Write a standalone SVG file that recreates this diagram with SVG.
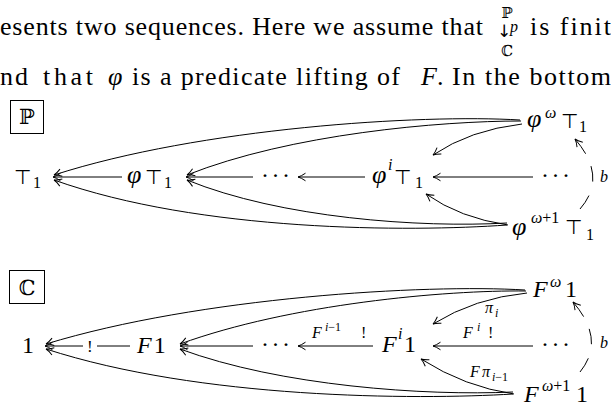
<svg xmlns="http://www.w3.org/2000/svg" width="611" height="406" viewBox="0 0 611 406">
<style>
text{fill:#000}
.t{font-family:"Liberation Serif",serif;font-size:26px}
.m{font-family:"Liberation Serif",serif;font-size:24px}
.phi{font-family:"Liberation Serif",serif;font-size:26px;font-style:italic}
.it{font-style:italic}
.sup{font-family:"Liberation Serif",serif;font-size:16px}
.lab{font-family:"Liberation Serif",serif;font-size:16px}
.ls{font-size:12px}
.top{font-family:"DejaVu Sans",sans-serif;font-size:20px;font-weight:200}
.bb{font-family:"DejaVu Serif",serif}
.c{fill:none;stroke:#000;stroke-width:1;marker-end:url(#ah)}
.box{fill:none;stroke:#000;stroke-width:1}
.dash{stroke-dasharray:16.5 15 16 14 18.5}
</style>
<defs>
<marker id="ah" viewBox="-10 -6 12 12" refX="0" refY="0" markerWidth="12" markerHeight="12" markerUnits="userSpaceOnUse" orient="auto">
<path d="M-7.5,-3.8 Q-3,-0.7 0,0 Q-3,0.7 -7.5,3.8" fill="none" stroke="#000" stroke-width="1"/>
</marker>
</defs>

<g id="prose">
<text class="t" x="0" y="35" textLength="483" lengthAdjust="spacing">esents two sequences. Here we assume that</text>
<text class="bb" x="507" y="18" font-size="15" text-anchor="middle">ℙ</text>
<text x="504" y="37" font-family="DejaVu Sans, sans-serif" font-size="17" text-anchor="middle">↓</text>
<text class="it" x="510" y="32" font-family="Liberation Serif, serif" font-size="16">p</text>
<text class="bb" x="507" y="56" font-size="15" text-anchor="middle">ℂ</text>
<text class="t" x="530" y="35" textLength="81" lengthAdjust="spacing">is finit</text>
<text class="t" x="0" y="85" textLength="28" lengthAdjust="spacing">nd</text>
<text class="t" x="43" y="85" textLength="50" lengthAdjust="spacing">that</text>
<text class="t it" x="108" y="85">φ</text>
<text class="t" x="132" y="85" textLength="268" lengthAdjust="spacing">is a predicate lifting of</text>
<text class="t it" x="421" y="85">F</text>
<text class="t" x="437" y="85">.</text>
<text class="t" x="452" y="85" textLength="159" lengthAdjust="spacing">In the bottom</text>
</g>

<g id="box-P">
<rect class="box" x="10.5" y="100.5" width="33" height="33"/>
<text class="bb" x="27" y="124" font-size="21" text-anchor="middle">ℙ</text>
</g>
<g id="box-C">
<rect class="box" x="9.5" y="270.5" width="35" height="33"/>
<text class="bb" x="27" y="295" font-size="21" text-anchor="middle">ℂ</text>
</g>

<g id="connectors">
<path class="c" d="M122,177 H53"/>
<path class="c" d="M253,177 H186"/>
<path class="c" d="M365,177 H298"/>
<path class="c" d="M533,177 H433"/>
<path class="c" d="M520,120 C420,114 200,128 54,175"/>
<path class="c" d="M521,121 C440,121 290,134 187,175"/>
<path class="c" d="M522,124 Q470,130 433,155"/>
<path class="c" d="M507,225 C410,232 200,232 54,180"/>
<path class="c" d="M507,223 C420,228 280,218 187,180"/>
<path class="c" d="M508,225 Q460,218 426,194"/>
<path class="c dash" pathLength="80" d="M580,209 Q608,177 575,139"/>

<path class="c" d="M130,346 H97 M83,346 H45"/>
<path class="c" d="M253,346 H180"/>
<path class="c" d="M373,346 H298"/>
<path class="c" d="M533,346 H433"/>
<path class="c" d="M525,290 C425,284 200,297 46,344"/>
<path class="c" d="M526,291 C445,290 290,304 180,344"/>
<path class="c" d="M527,293 Q475,298 433,324"/>
<path class="c" d="M513,394 C415,400 200,399 46,349"/>
<path class="c" d="M513,392 C425,396 280,386 180,349"/>
<path class="c" d="M514,394 Q465,387 421,359"/>
<path class="c dash" pathLength="80" d="M580,372 Q606,340 573,302"/>
</g>

<g id="top-T1"><text class="top" x="14" y="184">⊤</text><text class="sup" x="33" y="188">1</text></g>
<g id="top-phiT1"><text class="phi" x="127" y="183">φ</text><text class="top" x="145" y="184">⊤</text><text class="sup" x="164" y="188">1</text></g>
<g id="top-dots1"><text class="m" x="261" y="183" textLength="29" lengthAdjust="spacing">···</text></g>
<g id="top-phiiT1"><text class="phi" x="372" y="183">φ</text><text class="sup it" x="388" y="170">i</text><text class="top" x="394" y="184">⊤</text><text class="sup" x="415" y="188">1</text></g>
<g id="top-dots2"><text class="m" x="541" y="183" textLength="29" lengthAdjust="spacing">···</text></g>
<g id="top-phiwT1"><text class="phi" x="527" y="127">φ</text><text class="sup it" x="545" y="118">ω</text><text class="top" x="561" y="128">⊤</text><text class="sup" x="579" y="132">1</text></g>
<g id="top-phiw1T1"><text class="phi" x="512" y="235">φ</text><text class="sup" x="531" y="223"><tspan class="it">ω</tspan>+1</text><text class="top" x="565" y="234">⊤</text><text class="sup" x="586" y="240">1</text></g>
<g id="top-b"><text class="lab it" x="600" y="182">b</text></g>

<g id="bot-1"><text class="m" x="22" y="353">1</text></g>
<g id="bot-F1"><text class="m" x="137" y="353"><tspan class="it">F</tspan><tspan dx="2">1</tspan></text></g>
<g id="bot-dots1"><text class="m" x="261" y="352" textLength="29" lengthAdjust="spacing">···</text></g>
<g id="bot-Fi1"><text class="m it" x="382" y="352">F</text><text class="sup it" x="398" y="339">i</text><text class="m" x="404" y="352">1</text></g>
<g id="bot-dots2"><text class="m" x="541" y="352" textLength="29" lengthAdjust="spacing">···</text></g>
<g id="bot-Fw1"><text class="m it" x="533" y="297">F</text><text class="sup it" x="550" y="287">ω</text><text class="m" x="565" y="297">1</text></g>
<g id="bot-Fw11"><text class="m it" x="524" y="402">F</text><text class="sup" x="542" y="391"><tspan class="it">ω</tspan>+1</text><text class="m" x="576" y="402">1</text></g>

<g id="labels">
<text class="lab" x="87" y="352" style="font-size:17px">!</text>
<text class="lab"><tspan class="it" x="312" y="338">F</tspan><tspan class="ls it" x="325" y="331">i</tspan><tspan class="ls">−1</tspan><tspan x="361" y="338">!</tspan></text>
<text class="lab"><tspan class="it" x="463" y="338">F</tspan><tspan class="ls it" x="477" y="331">i</tspan><tspan x="488" y="338">!</tspan></text>
<text class="lab"><tspan class="it" x="485" y="313">π</tspan><tspan class="ls it" x="495" y="317">i</tspan></text>
<text class="lab"><tspan class="it" x="470" y="377">F</tspan><tspan class="it" x="482" y="377">π</tspan><tspan class="ls" x="492" y="381"><tspan class="it">i</tspan>−1</tspan></text>
<text class="lab it" x="600" y="348">b</text>
</g>
</svg>
